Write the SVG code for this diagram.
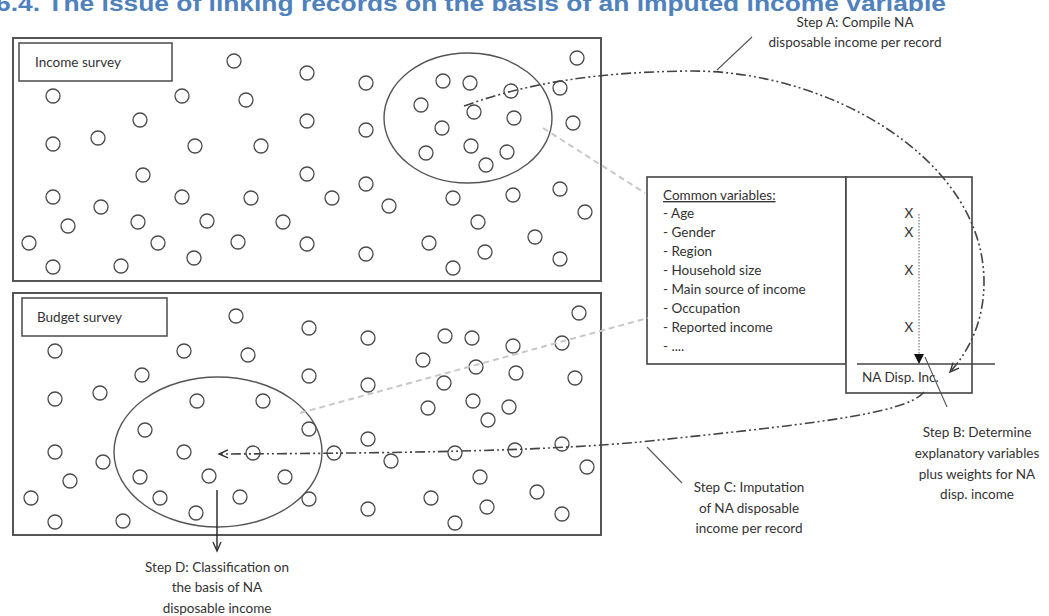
<svg xmlns="http://www.w3.org/2000/svg" width="1049" height="616" viewBox="0 0 1049 616">
<style>
 .t{font-family:Lato,"Open Sans","Liberation Sans",sans-serif;font-size:13.5px;fill:#333}
 .dot{fill:#fff;stroke:#4a4a4a;stroke-width:1.3}
 .frame{fill:#fff;stroke:#555;stroke-width:2}
 .lbl{fill:#fff;stroke:#555;stroke-width:1.6}
 .ell{fill:none;stroke:#555;stroke-width:1.4}
 .dd{fill:none;stroke:#444;stroke-width:1.6;stroke-dasharray:10 3 2 3 2 3}
 .grey{fill:none;stroke:#c8c8c8;stroke-width:2;stroke-dasharray:6 4}
 .lead{fill:none;stroke:#555;stroke-width:1.1}
 .box{fill:#fff;stroke:#444;stroke-width:1.6}
</style>
<defs>
 <marker id="open" markerUnits="userSpaceOnUse" markerWidth="12" markerHeight="12" refX="10" refY="5" orient="auto"><path d="M1,1 L10,5 L1,9" fill="none" stroke="#333" stroke-width="1.4"/></marker>
 <marker id="solid" markerUnits="userSpaceOnUse" markerWidth="12" markerHeight="12" refX="10" refY="5" orient="auto"><path d="M0,0 L10,5 L0,10 Z" fill="#111"/></marker>
 <g id="dots">
  <circle class="dot" cx="234" cy="61" r="7"/><circle class="dot" cx="307" cy="73" r="7"/><circle class="dot" cx="366" cy="83" r="7"/>
  <circle class="dot" cx="53" cy="96" r="7"/><circle class="dot" cx="182" cy="96" r="7"/><circle class="dot" cx="246" cy="100" r="7"/>
  <circle class="dot" cx="140" cy="120" r="7"/><circle class="dot" cx="307" cy="121" r="7"/><circle class="dot" cx="366" cy="130" r="7"/>
  <circle class="dot" cx="98" cy="138" r="7"/><circle class="dot" cx="53" cy="144" r="7"/><circle class="dot" cx="195" cy="146" r="7"/><circle class="dot" cx="261" cy="146" r="7"/>
  <circle class="dot" cx="143" cy="175" r="7"/><circle class="dot" cx="307" cy="174" r="7"/><circle class="dot" cx="366" cy="184" r="7"/>
  <circle class="dot" cx="53" cy="197" r="7"/><circle class="dot" cx="182" cy="197" r="7"/><circle class="dot" cx="101" cy="207" r="7"/><circle class="dot" cx="251" cy="198" r="7"/><circle class="dot" cx="332" cy="198" r="7"/><circle class="dot" cx="389" cy="206" r="7"/>
  <circle class="dot" cx="68" cy="226" r="7"/><circle class="dot" cx="138" cy="222" r="7"/><circle class="dot" cx="207" cy="221" r="7"/><circle class="dot" cx="283" cy="222" r="7"/>
  <circle class="dot" cx="29" cy="243" r="7"/><circle class="dot" cx="158" cy="243" r="7"/><circle class="dot" cx="238" cy="242" r="7"/><circle class="dot" cx="307" cy="244" r="7"/><circle class="dot" cx="366" cy="254" r="7"/>
  <circle class="dot" cx="53" cy="267" r="7"/><circle class="dot" cx="121" cy="266" r="7"/><circle class="dot" cx="194" cy="258" r="7"/>
  <circle class="dot" cx="577" cy="58" r="7"/><circle class="dot" cx="443" cy="81" r="7"/><circle class="dot" cx="470" cy="83" r="7"/><circle class="dot" cx="511" cy="91" r="7"/><circle class="dot" cx="560" cy="88" r="7"/>
  <circle class="dot" cx="421" cy="105" r="7"/><circle class="dot" cx="474" cy="112" r="7"/><circle class="dot" cx="514" cy="118" r="7"/><circle class="dot" cx="573" cy="123" r="7"/><circle class="dot" cx="442" cy="128" r="7"/>
  <circle class="dot" cx="426" cy="153" r="7"/><circle class="dot" cx="471" cy="146" r="7"/><circle class="dot" cx="507" cy="152" r="7"/><circle class="dot" cx="486" cy="165" r="7"/>
  <circle class="dot" cx="453" cy="198" r="7"/><circle class="dot" cx="513" cy="195" r="7"/><circle class="dot" cx="560" cy="189" r="7"/><circle class="dot" cx="585" cy="212" r="7"/>
  <circle class="dot" cx="478" cy="222" r="7"/><circle class="dot" cx="535" cy="237" r="7"/><circle class="dot" cx="429" cy="243" r="7"/><circle class="dot" cx="485" cy="252" r="7"/><circle class="dot" cx="560" cy="259" r="7"/><circle class="dot" cx="453" cy="268" r="7"/>
 </g>
</defs>
<rect width="1049" height="616" fill="#fff"/>
<text x="-4" y="11" font-family="Liberation Sans,Arial,sans-serif" font-weight="bold" font-size="22" fill="#4F81BD" textLength="950" lengthAdjust="spacingAndGlyphs">6.4. The issue of linking records on the basis of an imputed income variable</text>

<g id="income-survey">
 <rect class="frame" x="13" y="38" width="588" height="243"/>
 <use href="#dots"/>
 <ellipse class="ell" cx="468" cy="118" rx="84" ry="65"/>
 <rect class="lbl" x="19" y="43" width="153" height="38"/>
 <text class="t" x="35" y="67">Income survey</text>
</g>

<g id="budget-survey">
 <rect class="frame" x="13" y="293" width="588" height="242"/>
 <use href="#dots" transform="translate(2,255)"/>
 <ellipse class="ell" cx="218" cy="452" rx="104" ry="75"/>
 <rect class="lbl" x="22" y="298" width="145" height="38"/>
 <text class="t" x="37" y="322">Budget survey</text>
</g>

<g id="common-variables">
 <rect class="box" x="647" y="177" width="199" height="187"/>
 <text class="t" x="663" y="200" text-decoration="underline">Common variables:</text>
 <text class="t" x="663" y="218">- Age</text>
 <text class="t" x="663" y="237">- Gender</text>
 <text class="t" x="663" y="256">- Region</text>
 <text class="t" x="663" y="275">- Household size</text>
 <text class="t" x="663" y="294">- Main source of income</text>
 <text class="t" x="663" y="313">- Occupation</text>
 <text class="t" x="663" y="332">- Reported income</text>
 <text class="t" x="663" y="351">- ....</text>
</g>

<g id="na-disp-inc">
 <rect class="box" x="846" y="177" width="126" height="216"/>
 <line x1="857" y1="364" x2="995" y2="364" stroke="#444" stroke-width="1.6"/>
 <text class="t" x="909" y="218" text-anchor="middle">X</text>
 <text class="t" x="909" y="237" text-anchor="middle">X</text>
 <text class="t" x="909" y="275" text-anchor="middle">X</text>
 <text class="t" x="909" y="332" text-anchor="middle">X</text>
 <text class="t" x="862" y="382">NA Disp. Inc.</text>
</g>

<g id="connectors">
 <line class="grey" x1="543" y1="128" x2="645" y2="193"/>
 <line class="grey" x1="300" y1="413" x2="648" y2="318"/>
 <line x1="919" y1="214" x2="919" y2="364" stroke="#777" stroke-width="1.2" stroke-dasharray="1.5 1.5" marker-end="url(#solid)"/>
 <path class="dd" d="M464 106 C530 82 600 72 690 71 C830 70 984 160 984 282 C984 320 970 350 950 372" marker-end="url(#open)"/>
 <path class="dd" d="M924 392 C905 415 800 425 640 442 C560 449 460 453 219 454" marker-end="url(#open)"/>
 <line x1="217" y1="490" x2="217" y2="551" stroke="#222" stroke-width="1.4" marker-end="url(#open)"/>
 <line class="lead" x1="752" y1="37" x2="717" y2="70"/>
 <line class="lead" x1="925" y1="357" x2="947" y2="407"/>
 <line class="lead" x1="647" y1="447" x2="682" y2="483"/>
</g>

<g id="step-a">
 <text class="t" x="855" y="27" text-anchor="middle">Step A: Compile NA</text>
 <text class="t" x="855" y="47" text-anchor="middle">disposable income per record</text>
</g>
<g id="step-b">
 <text class="t" x="977" y="437" text-anchor="middle">Step B: Determine</text>
 <text class="t" x="977" y="458" text-anchor="middle">explanatory variables</text>
 <text class="t" x="977" y="479" text-anchor="middle">plus weights for NA</text>
 <text class="t" x="977" y="499" text-anchor="middle">disp. income</text>
</g>
<g id="step-c">
 <text class="t" x="749" y="492" text-anchor="middle">Step C: Imputation</text>
 <text class="t" x="749" y="513" text-anchor="middle">of NA disposable</text>
 <text class="t" x="749" y="533" text-anchor="middle">income per record</text>
</g>
<g id="step-d">
 <text class="t" x="217" y="572" text-anchor="middle">Step D: Classification on</text>
 <text class="t" x="217" y="592" text-anchor="middle">the basis of NA</text>
 <text class="t" x="217" y="613" text-anchor="middle">disposable income</text>
</g>
</svg>
